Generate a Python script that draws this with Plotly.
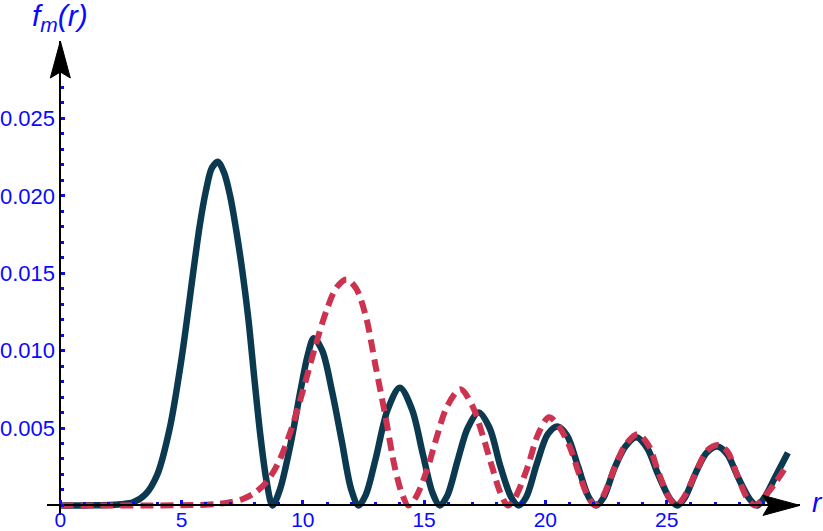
import plotly.graph_objects as go

# values
r_solid = [0, 1, 2, 2.5, 3, 3.5, 4, 4.5, 5, 5.5, 5.75, 6, 6.25, 6.5, 6.75, 7, 7.25, 7.5,
           7.75, 8, 8.25, 8.5, 8.75, 9.05, 9.5, 9.9, 10.2, 10.45, 10.8, 11.2, 11.6, 12.0,
           12.3, 12.6, 13.0, 13.5, 14.0, 14.5, 14.95, 15.35, 15.65, 15.95, 16.4, 16.8,
           17.25, 17.7, 18.15, 18.6, 18.9, 19.2, 19.65, 20.1, 20.5, 20.9, 21.35, 21.8,
           22.1, 22.4, 22.85, 23.3, 23.75, 24.2, 24.65, 25.15, 25.45, 25.75, 26.2, 26.65,
           27.1, 27.5, 27.95, 28.43, 28.73, 29.03, 29.5, 30.0]
f_solid = [0, 0, 0.00002, 0.00008, 0.0002, 0.0007, 0.0020, 0.0049, 0.0095, 0.0153, 0.0181,
           0.0203, 0.0218, 0.0222, 0.0215, 0.0200, 0.0178, 0.0152, 0.0121, 0.0082, 0.0045,
           0.0016, 0, 0.0010, 0.0040, 0.0074, 0.0097, 0.0108, 0.0100, 0.0074, 0.0042,
           0.0010, 0, 0.0007, 0.0030, 0.0062, 0.0076, 0.0062, 0.0033, 0.0008, 0, 0.0006,
           0.0030, 0.0050, 0.0060, 0.0050, 0.0025, 0.0005, 0, 0.0005, 0.0027, 0.0046,
           0.0051, 0.0045, 0.0025, 0.0005, 0, 0.0005, 0.0024, 0.0038, 0.0044, 0.0037,
           0.0020, 0.0004, 0, 0.0005, 0.0021, 0.0034, 0.0038, 0.0033, 0.0018, 0.0004, 0,
           0.0005, 0.0019, 0.0034]

r_dashed = [0, 2, 4, 5, 6, 6.5, 7, 7.5, 8, 8.5, 9, 9.5, 10, 10.5, 11, 11.4, 11.8, 12.2,
            12.6, 13, 13.4, 13.8, 14.1, 14.35, 14.65, 15.1, 15.5, 15.95, 16.5, 17.0, 17.4,
            17.8, 18.15, 18.45, 18.75, 19.25, 19.7, 20.15, 20.6, 21.0, 21.4, 21.75, 22.05,
            22.35, 22.85, 23.3, 23.8, 24.25, 24.65, 25.1, 25.4, 25.7, 26.2, 26.65, 27.1,
            27.5, 27.9, 28.35, 28.65, 28.95, 29.5, 30.0]
f_dashed = [0, 0, 0, 0.00001, 0.00004, 0.0001, 0.0002, 0.0004, 0.0008, 0.0015, 0.0028,
            0.0048, 0.0074, 0.0102, 0.0127, 0.0141, 0.0146, 0.0140, 0.0122, 0.0090, 0.0058,
            0.0024, 0.0007, 0, 0.0005, 0.0022, 0.0043, 0.0064, 0.0075, 0.0064, 0.0046,
            0.0025, 0.0008, 0, 0.0005, 0.0024, 0.0046, 0.0057, 0.0050, 0.0038, 0.0020,
            0.0006, 0, 0.0005, 0.0024, 0.0039, 0.0046, 0.0039, 0.0022, 0.0005, 0, 0.0005,
            0.0021, 0.0035, 0.0039, 0.0035, 0.0020, 0.0004, 0, 0.0004, 0.0015, 0.0027]

x_ticks = [0, 5, 10, 15, 20, 25]
y_ticks = [0.005, 0.010, 0.015, 0.020, 0.025]

x_range = [-0.55, 30.5]
y_range = [-0.00062, 0.0300]
blue = '#0a0aff'
font = 'Liberation Sans, Arial, sans-serif'

# where the axes cross (x=0, y=0) in plot fractions
x0_frac = (0 - x_range[0]) / (x_range[1] - x_range[0])
y0_frac = (0 - y_range[0]) / (y_range[1] - y_range[0])

fig = go.Figure()

fig.add_trace(go.Scatter(
    x=r_solid, y=f_solid, mode='lines',
    line=dict(color='#0b3a50', width=6.5, shape='spline', smoothing=0.9),
    showlegend=False
))
fig.add_trace(go.Scatter(
    x=r_dashed, y=f_dashed, mode='lines',
    line=dict(color='#cc3350', width=6, shape='spline', smoothing=0.9, dash='13px,7px'),
    showlegend=False
))

axis_common = dict(ticks='inside', tickcolor=blue, tickwidth=2.5, ticklen=4,
                   showgrid=False, zeroline=False, showline=True, automargin=False,
                   linecolor='black', linewidth=2, anchor='free')

fig.update_xaxes(range=x_range, tickvals=x_ticks, position=y0_frac,
                 tickfont=dict(family=font, size=21, color=blue), ticklabelstandoff=-5,
                 minor=dict(dtick=1, tick0=0, ticks='inside', ticklen=2.5, tickwidth=2.5,
                            tickcolor=blue, showgrid=False),
                 **axis_common)
fig.update_yaxes(range=y_range, tickvals=y_ticks, tickformat='.3f', position=x0_frac,
                 tickfont=dict(family=font, size=22, color=blue), ticklabelstandoff=0,
                 minor=dict(dtick=0.001, tick0=0, ticks='inside', ticklen=2.5, tickwidth=2.5,
                            tickcolor=blue, showgrid=False),
                 **axis_common)

# arrow heads on the axes (pixel-sized paths)
fig.add_shape(type='path', xref='paper', yref='paper', xsizemode='pixel', ysizemode='pixel',
              xanchor=x0_frac, yanchor=1.0,
              path='M 0 0 L -10 -37 L 0 -31 L 10 -37 Z',
              fillcolor='black', line=dict(color='black', width=1))
fig.add_shape(type='path', xref='paper', yref='paper', xsizemode='pixel', ysizemode='pixel',
              xanchor=1.0, yanchor=y0_frac,
              path='M 0 0 L -37 10 L -31 0 L -37 -10 Z',
              fillcolor='black', line=dict(color='black', width=1))

fig.add_annotation(text='<i>f<sub>m</sub>(r)</i>', xref='paper', yref='paper',
                   x=x0_frac, y=1.0, xanchor='center', yanchor='middle',
                   yshift=24, showarrow=False,
                   font=dict(family=font, size=30, color=blue))
fig.add_annotation(text='<i>r</i>', xref='paper', yref='paper', x=1.0, y=y0_frac,
                   xanchor='center', yanchor='middle', xshift=17, yshift=3,
                   showarrow=False, font=dict(family=font, size=28, color=blue))

fig.update_layout(
    width=823, height=531,
    margin=dict(l=47, r=23, t=41, b=16),
    plot_bgcolor='white', paper_bgcolor='white',
)

fig.write_html("out.html", config={'displayModeBar': False},
               post_script="document.body.style.margin='0';")
